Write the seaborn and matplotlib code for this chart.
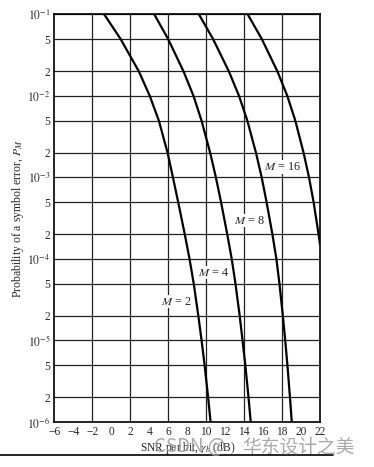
import numpy as np
import pandas as pd
import matplotlib
matplotlib.use('Agg')
import matplotlib.pyplot as plt
from matplotlib.lines import Line2D
import seaborn as sns

# probability levels
p_levels = [1e-1, 5e-2, 2e-2, 1e-2, 5e-3, 2e-3, 1e-3, 5e-4, 2e-4, 1e-4,
            5e-5, 2e-5, 1e-5, 5e-6, 2e-6, 1e-6]

# SNR per bit (dB) where each curve crosses those levels
snr_m2 = [-0.75, 0.97, 2.90, 4.05, 5.00, 5.93, 6.49, 7.04, 7.74, 8.24,
          8.68, 9.17, 9.51, 9.83, 10.20, 10.46]
snr_m4 = [4.53, 5.98, 7.61, 8.66, 9.50, 10.42, 11.02, 11.56, 12.22, 12.69,
          13.08, 13.53, 13.83, 14.12, 14.46, 14.69]
snr_m8 = [9.24, 10.72, 12.39, 13.46, 14.33, 15.25, 15.85, 16.36, 16.98, 17.40,
          17.72, 18.08, 18.33, 18.56, 18.83, 19.02]
# M = 16 runs off the right edge
snr_m16 = [14.38, 15.86, 17.51, 18.55, 19.39, 20.27, 20.84, 21.32, 21.85, 22.0]
p_m16 = [1e-1, 5e-2, 2e-2, 1e-2, 5e-3, 2e-3, 1e-3, 5e-4, 2e-4, 1.5e-4]

curve_labels = ['$M$ = 2', '$M$ = 4', '$M$ = 8', '$M$ = 16']
label_x = [6.9, 10.8, 14.6, 18.1]
label_y = [3.0e-5, 6.8e-5, 2.95e-4, 1.35e-3]

xtick_vals = list(range(-6, 23, 2))
xgrid_vals = [-2, 2, 6, 10, 14, 18]
ytick_vals = [1e-1, 5e-2, 2e-2, 1e-2, 5e-3, 2e-3, 1e-3, 5e-4, 2e-4, 1e-4,
              5e-5, 2e-5, 1e-5, 5e-6, 2e-6, 1e-6]
ytick_text = ['$10^{-1}$', '5', '2', '$10^{-2}$', '5', '2', '$10^{-3}$', '5', '2',
              '$10^{-4}$', '5', '2', '$10^{-5}$', '5', '2', '$10^{-6}$']

df = pd.concat([
    pd.DataFrame({'snr': snr_m2, 'p': p_levels, 'M': '2'}),
    pd.DataFrame({'snr': snr_m4, 'p': p_levels, 'M': '4'}),
    pd.DataFrame({'snr': snr_m8, 'p': p_levels, 'M': '8'}),
    pd.DataFrame({'snr': snr_m16, 'p': p_m16, 'M': '16'}),
])

sns.set_style('white')
plt.rcParams['font.family'] = ['Liberation Serif', 'DejaVu Serif']
plt.rcParams['mathtext.fontset'] = 'stix'

fig = plt.figure(figsize=(3.74, 4.67), dpi=100)
ax = fig.add_axes([0.1457, 0.0964, 0.7100, 0.8726])

# grid first so curves sit on top
for v in ytick_vals:
    ax.axhline(v, color='#222222', lw=0.9, zorder=1)
for v in xgrid_vals:
    ax.axvline(v, color='#222222', lw=0.9, zorder=1)

sns.lineplot(data=df, x='snr', y='p', units='M', estimator=None, sort=False,
             color='black', lw=1.6, ax=ax, zorder=3,
             solid_joinstyle='round', solid_capstyle='butt')

ax.set_yscale('log')
ax.set_xlim(-6, 22)
ax.set_ylim(1e-6, 1e-1)

ax.set_xticks(xtick_vals)
ax.set_xticklabels([str(v).replace('-', '\u2212') for v in xtick_vals], fontsize=8.3)
ax.set_yticks(ytick_vals)
ax.set_yticklabels(ytick_text, fontsize=8.3)
ax.yaxis.set_minor_locator(matplotlib.ticker.NullLocator())
ax.tick_params(axis='x', direction='in', length=4, width=0.9, pad=3, color='#222222')
ax.tick_params(axis='y', length=0, pad=3)

for s in ax.spines.values():
    s.set_color('black')
    s.set_linewidth(1.2)

for t, x, y in zip(curve_labels, label_x, label_y):
    ax.text(x, y, t, fontsize=8.8, ha='center', va='center', zorder=4,
            bbox=dict(facecolor='white', edgecolor='none', pad=0.5))

ax.set_xlabel('SNR per bit, $\\gamma_b$ (dB)', fontsize=8.3, labelpad=1)
ax.set_ylabel('Probability of a symbol error, $P_M$', fontsize=8.5, labelpad=1)

fig.add_artist(Line2D([0, 333 / 374], [1 - 455 / 467, 1 - 455 / 467],
                      color='black', lw=1.2))
# watermark laid over the axis label
fig.text(154 / 374, 1 - 447 / 467, 'CSDN @', fontsize=13.5,
         family=['Noto Sans CJK SC', 'DejaVu Sans'], color='#a0a0a0',
         ha='left', va='center', alpha=0.9)
fig.text(242 / 374, 1 - 447 / 467, '华东设计之美', fontsize=13.5,
         family=['Noto Sans CJK SC', 'DejaVu Sans'], color='#a0a0a0',
         ha='left', va='center', alpha=0.9)

fig.savefig('out.png', dpi=100)
